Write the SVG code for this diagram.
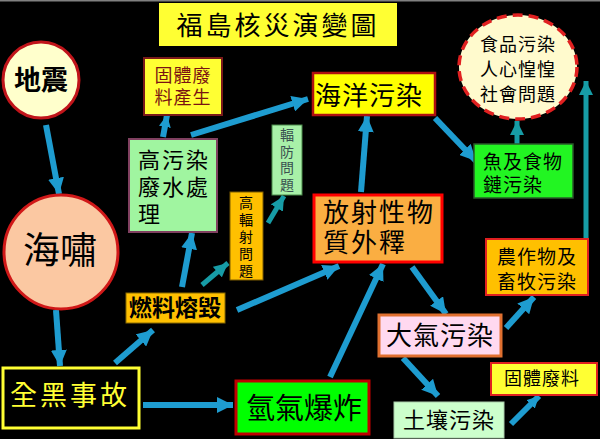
<svg xmlns="http://www.w3.org/2000/svg" width="600" height="439" viewBox="0 0 600 439">
<defs>
<marker id="hb" viewBox="0 0 10 10" refX="10" refY="5" markerWidth="16" markerHeight="16" markerUnits="userSpaceOnUse" orient="auto"><path d="M0,0 L10,5 L0,10 Z" fill="#1E9CD0"/></marker>
<marker id="hbs" viewBox="0 0 10 10" refX="10" refY="5" markerWidth="12" markerHeight="12" markerUnits="userSpaceOnUse" orient="auto"><path d="M0,0 L10,5 L0,10 Z" fill="#1E9CD0"/></marker>
<marker id="ht" viewBox="0 0 10 10" refX="10" refY="5" markerWidth="14" markerHeight="14" markerUnits="userSpaceOnUse" orient="auto"><path d="M0,0 L10,5 L0,10 Z" fill="#179CA6"/></marker>
</defs>
<style>
text{font-family:"Liberation Sans","Noto Sans CJK TC","Noto Sans CJK SC",sans-serif;dominant-baseline:central;fill:#000;}
tspan{dominant-baseline:central;}
.b{stroke:#1E9CD0;stroke-width:6;fill:none;}
.t{stroke:#179CA6;stroke-width:5;fill:none;}
.v{font-size:14px;text-anchor:middle;}
.g{fill:#3A5050;}
</style>
<rect width="600" height="439" fill="#000"/>
<rect width="600" height="1.5" fill="#808080"/>

<g id="title">
<rect x="159" y="3" width="238" height="43" fill="#FFFF33"/>
<text x="278" y="26" font-size="26" text-anchor="middle" letter-spacing="3">福島核災演變圖</text>
</g>

<g id="connectors">
<line class="b" x1="46" y1="125" x2="59" y2="194" marker-end="url(#hb)"/>
<line class="b" x1="56" y1="310" x2="60" y2="366" marker-end="url(#hb)"/>
<line class="b" x1="143" y1="405" x2="233" y2="405" marker-end="url(#hb)"/>
<line class="b" x1="115" y1="363" x2="153" y2="330" marker-end="url(#hb)"/>
<line class="b" x1="182" y1="287" x2="192" y2="233" marker-end="url(#hb)"/>
<line class="t" x1="202" y1="285" x2="228" y2="263" marker-end="url(#ht)"/>
<line class="b" x1="237" y1="310" x2="339" y2="266" marker-end="url(#hb)"/>
<line class="t" x1="268" y1="223" x2="284" y2="196" marker-end="url(#ht)"/>
<line class="b" x1="163" y1="137" x2="167" y2="115" marker-end="url(#hbs)" stroke-width="4"/>
<line class="b" x1="191" y1="135" x2="308" y2="99" marker-end="url(#hb)"/>
<line class="b" x1="361" y1="192" x2="367" y2="116" marker-end="url(#hb)"/>
<line class="b" x1="435" y1="118" x2="476" y2="161" marker-end="url(#hb)"/>
<line class="t" x1="517" y1="147" x2="517" y2="121" marker-end="url(#ht)"/>
<line class="t" x1="586" y1="238" x2="586" y2="81" marker-end="url(#ht)"/>
<line class="b" x1="330" y1="377" x2="383" y2="264" marker-end="url(#hb)"/>
<line class="b" x1="412" y1="267" x2="446" y2="314" marker-end="url(#hb)"/>
<line class="b" x1="506" y1="328" x2="534" y2="297" marker-end="url(#hb)"/>
<line class="b" x1="403" y1="358" x2="438" y2="396" marker-end="url(#hb)"/>
<line class="b" x1="511" y1="424" x2="539" y2="396" marker-end="url(#hbs)" stroke-width="3"/>
</g>

<g id="n-earthquake">
<circle cx="41" cy="80" r="38" fill="#FFFFCC" stroke="#C0141A" stroke-width="3"/>
<text x="41" y="81" font-size="27" font-weight="bold" text-anchor="middle">地震</text>
</g>

<g id="n-tsunami">
<circle cx="61" cy="252" r="57" fill="#FBC8A2" stroke="#D01818" stroke-width="3"/>
<text x="60" y="251" font-size="37" text-anchor="middle">海嘯</text>
</g>

<g id="n-blackout">
<rect x="3" y="368" width="136" height="60" fill="#000" stroke="#FFFF33" stroke-width="3"/>
<text x="70" y="396" font-size="27" text-anchor="middle" letter-spacing="3" style="fill:#FFFF33">全黑事故</text>
</g>

<g id="n-hydrogen">
<rect x="236" y="381" width="133" height="53" fill="#00FF00" stroke="#C00000" stroke-width="3"/>
<text x="304" y="409" font-size="29" text-anchor="middle">氫氣爆炸</text>
</g>

<g id="n-meltdown">
<rect x="126" y="293" width="99" height="30" fill="#FFC000" stroke="#8A6A00" stroke-width="1"/>
<text x="175" y="308" font-size="23" font-weight="bold" text-anchor="middle">燃料熔毀</text>
</g>

<g id="n-wastewater">
<rect x="129" y="139" width="88" height="93" fill="#A0F5A0" stroke="#804060" stroke-width="2"/>
<text font-size="22" letter-spacing="2"><tspan x="138" y="160">高污染</tspan><tspan x="138" y="187">廢水處</tspan><tspan x="138" y="214">理</tspan></text>
</g>

<g id="n-solidgen">
<rect x="144" y="58" width="78" height="57" fill="#FFFF33" stroke="#7A1A1A" stroke-width="2"/>
<text font-size="18" text-anchor="middle" style="fill:#7A1212" letter-spacing="1"><tspan x="183" y="76">固體廢</tspan><tspan x="183" y="98">料產生</tspan></text>
</g>

<g id="n-highrad">
<rect x="230" y="192" width="33" height="88" fill="#FFC000" stroke="#7A5A00" stroke-width="1"/>
<text class="v"><tspan x="246" y="203">高</tspan><tspan x="246" y="220">輻</tspan><tspan x="246" y="237">射</tspan><tspan x="246" y="254">問</tspan><tspan x="246" y="271">題</tspan></text>
</g>

<g id="n-radprot">
<rect x="272" y="125" width="30" height="70" fill="#A8F0A8" stroke="#4A8A4A" stroke-width="1"/>
<text class="v g"><tspan x="287" y="135">輻</tspan><tspan x="287" y="151.5">防</tspan><tspan x="287" y="168">問</tspan><tspan x="287" y="184.5">題</tspan></text>
</g>

<g id="n-ocean">
<rect x="313" y="73" width="122" height="42" fill="#FFFF00" stroke="#B01010" stroke-width="2.5"/>
<text x="369" y="96" font-size="26" text-anchor="middle" letter-spacing="1">海洋污染</text>
</g>

<g id="n-release">
<rect x="314" y="195" width="128" height="67" fill="#FAAE42" stroke="#FF0000" stroke-width="3"/>
<text font-size="26" letter-spacing="2"><tspan x="323" y="213">放射性物</tspan><tspan x="323" y="243">質外釋</tspan></text>
</g>

<g id="n-fish">
<rect x="474" y="144" width="99" height="54" fill="#22F522" stroke="#2A5A2A" stroke-width="1.5"/>
<text font-size="19" letter-spacing="1"><tspan x="483" y="162">魚及食物</tspan><tspan x="483" y="185">鏈污染</tspan></text>
</g>

<g id="n-social">
<ellipse cx="518" cy="67" rx="59" ry="52" fill="#FFFACD" stroke="#E02020" stroke-width="3.5" stroke-dasharray="10,6"/>
<text font-size="18" text-anchor="middle" letter-spacing="1"><tspan x="518" y="45">食品污染</tspan><tspan x="518" y="70">人心惶惶</tspan><tspan x="518" y="95">社會問題</tspan></text>
</g>

<g id="n-air">
<rect x="379" y="315" width="122" height="41" fill="#FFD9F0" stroke="#E07030" stroke-width="3"/>
<text x="440" y="336" font-size="26" text-anchor="middle" letter-spacing="1">大氣污染</text>
</g>

<g id="n-crops">
<rect x="486" y="239" width="102" height="56" fill="#FFC000" stroke="#E02020" stroke-width="2"/>
<text font-size="19" text-anchor="middle" letter-spacing="1"><tspan x="537" y="257">農作物及</tspan><tspan x="537" y="282">畜牧污染</tspan></text>
</g>

<g id="n-soil">
<rect x="394" y="402" width="110" height="36" fill="#CCFFCC" stroke="#AACCAA" stroke-width="1"/>
<text x="449" y="420" font-size="22" text-anchor="middle" letter-spacing="1">土壤污染</text>
</g>

<g id="n-solid">
<rect x="491" y="363" width="106" height="32" fill="#FFFF33" stroke="#E02020" stroke-width="2"/>
<text x="542" y="379" font-size="18" text-anchor="middle" letter-spacing="1">固體廢料</text>
</g>
</svg>
